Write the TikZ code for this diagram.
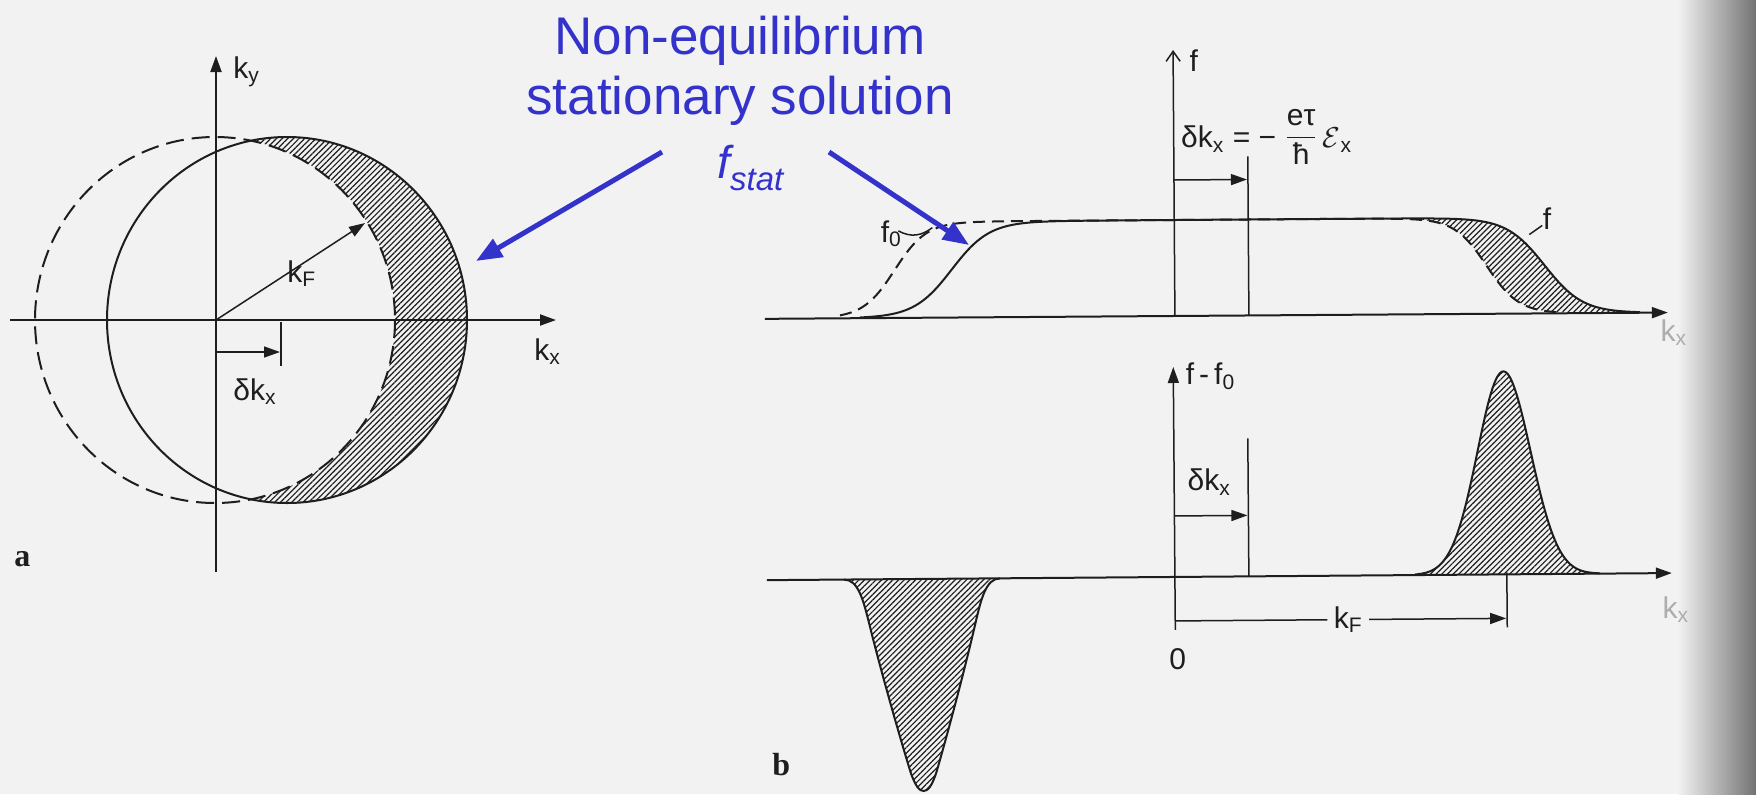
\documentclass[tikz,border=0pt]{standalone}
\usepackage{fontspec}
\setmainfont{Liberation Sans}
\newfontfamily\serifface{Liberation Serif}
\usetikzlibrary{arrows.meta,patterns.meta}
\definecolor{bg}{RGB}{242,242,242}
\definecolor{ink}{RGB}{30,30,30}
\definecolor{blu}{RGB}{51,51,204}
\begin{document}
\begin{tikzpicture}[x=0.5pt,y=-0.5pt,
  declare function={
    sig(\t)=1/(1+exp(-max(-9,min(9,\t))));
    fs(\t)=316-96*sig((\t-952)/19)*sig((1545-\t)/19);
    fz(\t)=316-96*sig((\t-895)/16)*sig((1487-\t)/16);
    pk(\t)=577-203*exp(-1*pow((\t-1505)/37.5,2));
  },
  curve/.style={draw=ink,line width=1pt},
  thinline/.style={draw=ink,line width=0.75pt},
  tip/.style={-{Triangle[length=8pt,width=5.5pt]}},
  hatch/.style={pattern={Lines[angle=45,distance=2pt,line width=0.6pt]},pattern color=ink},
  lab/.style={font=\fontsize{15}{18}\selectfont,text=ink,inner sep=0pt},
  panel/.style={font=\serifface\bfseries\fontsize{16}{18}\selectfont,text=ink,inner sep=0pt},
  bluetext/.style={font=\fontsize{26.5}{30}\selectfont,text=blu,inner sep=0pt},
  bluearrow/.style={draw=blu,line width=2.5pt,-{Triangle[length=13pt,width=10pt]}},
  faint/.style={font=\fontsize{15}{18}\selectfont,text=black!32,inner sep=0pt}
]
\useasboundingbox (0,0) rectangle (1756,794);
\fill[bg] (0,0) rectangle (1756,794);
\shade[left color=bg,right color=black!55] (1678,0) rectangle (1756,794);

% ---------------- panel a ----------------
\coordinate (O) at (216,320);
\begin{scope}
  \clip (287,320) ellipse [x radius=180,y radius=183];
  \fill[hatch,even odd rule] (0,100) rectangle (700,560) (215,320) ellipse [x radius=180,y radius=183];
\end{scope}
\draw[curve,dash pattern=on 9pt off 4pt] (215,320) ellipse [x radius=180,y radius=183];
\draw[curve] (287,320) ellipse [x radius=180,y radius=183];
\coordinate (kyb) at (216,572);
\coordinate (kyt) at (216,56);
\coordinate (kxl) at (10,320);
\coordinate (kxr) at (556,320);
\draw[curve,tip] (kyb) -- (kyt);
\draw[curve,tip] (kxl) -- (kxr);
\coordinate (kFe) at (365,223);
\draw[thinline,tip] (O) -- (kFe);
\coordinate (dka0) at (216,352);
\coordinate (dka1) at (280,352);
\draw[thinline,tip] (dka0) -- (dka1);
\coordinate (tka0) at (281,322);
\coordinate (tka1) at (281,366);
\draw[thinline] (tka0) -- (tka1);
\node[lab,anchor=base west] (ky) at (233,78) {k\textsubscript{y}};
\node[lab,anchor=base west] (kxa) at (534,360) {k\textsubscript{x}};
\node[lab,anchor=base west] (kFa) at (287,282) {k\textsubscript{F}};
\node[lab,anchor=base west] (dka) at (233,400) {δk\textsubscript{x}};
\node[panel,anchor=base west] (pa) at (14,566) {a};

% ---------------- top right graph ----------------
\begin{scope}[rotate around={0.4:(1175,316)}]
\fill[hatch] plot[domain=1420:1625,samples=90] (\x,{fs(\x)}) -- plot[domain=1625:1420,samples=90] (\x,{fz(\x)}) -- cycle;
\coordinate (b1l) at (765,316);
\coordinate (b1r) at (1668,316);
\draw[curve,tip] (b1l) -- (b1r);
\draw[curve,dash pattern=on 6pt off 3.5pt] plot[domain=840:1560,samples=220] (\x,{fz(\x)});
\draw[curve] plot[domain=860:1640,samples=240] (\x,{fs(\x)});
\coordinate (fa0) at (1175,316);
\coordinate (fa1) at (1175,50);
\draw[thinline,-{Straight Barb[length=5pt,width=7pt]}] (fa0) -- (fa1);
\node[lab,anchor=base west] (flab) at (1191,72) {f};
\coordinate (dk1t) at (1249,157);
\coordinate (dk1b) at (1249,316);
\draw[thinline] (dk1t) -- (dk1b);
\coordinate (dk1a) at (1175,180);
\coordinate (dk1e) at (1248,180);
\draw[thinline,tip] (dk1a) -- (dk1e);
\node[lab,anchor=base west] (formula) at (1182,148)
  {δk\textsubscript{x} = − \raisebox{1.5pt}{$\displaystyle\frac{\mbox{eτ}}{\mbox{ħ}}$}\,$\mathcal{E}$\textsubscript{x}};
\node[lab,anchor=base west] (f0lab) at (881,240) {f\textsubscript{0}};
\coordinate (f0l0) at (899,229);
\coordinate (f0l1) at (933,226);
\draw[thinline] (f0l0) .. controls (912,236) and (922,234) .. (f0l1);
\node[lab,anchor=base west] (flab2) at (1543,232) {f};
\coordinate (fl0) at (1530,237);
\coordinate (fl1) at (1543,228);
\draw[thinline] (fl0) -- (fl1);
\node[faint,anchor=base west] (kxt) at (1660,345) {k\textsubscript{x}};
\end{scope}

% ---------------- bottom right graph ----------------
\begin{scope}[rotate around={0.45:(1175,577)}]
\def\dippath{(844,577) .. controls (858,577) and (863,597) .. (869,622)
  .. controls (881,672) and (898,733) .. (909,770)
  .. controls (914,785) and (918,789) .. (922,789)
  .. controls (926,789) and (930,785) .. (935,770)
  .. controls (946,733) and (963,672) .. (975,622)
  .. controls (981,597) and (986,577) .. (1000,577)}
\fill[hatch] \dippath -- cycle;
\draw[curve] \dippath;
\fill[hatch] (1415,577) -- plot[domain=1415:1600,samples=120] (\x,{pk(\x)}) -- (1600,577) -- cycle;
\draw[curve] plot[domain=1415:1600,samples=120] (\x,{pk(\x)});
\coordinate (b2l) at (767,577);
\coordinate (b2r) at (1672,577);
\draw[curve,tip] (b2l) -- (b2r);
\coordinate (ga0) at (1175,630);
\coordinate (ga1) at (1175,367);
\draw[thinline,tip] (ga0) -- (ga1);
\node[lab,anchor=base west] (gflab) at (1187,385) {f\,-\,f\textsubscript{0}};
\coordinate (dk2t) at (1249,439);
\coordinate (dk2b) at (1249,577);
\draw[thinline] (dk2t) -- (dk2b);
\coordinate (dk2a) at (1175,516);
\coordinate (dk2e) at (1248,516);
\draw[thinline,tip] (dk2a) -- (dk2e);
\node[lab,anchor=base west] (dkb) at (1188,491) {δk\textsubscript{x}};
\coordinate (kFt0) at (1507,575);
\coordinate (kFt1) at (1507,630);
\draw[thinline] (kFt0) -- (kFt1);
\node[lab,inner sep=3pt] (kFb) at (1348,621) {k\textsubscript{F}};
\coordinate (kFs) at (1175,621);
\coordinate (kFe2) at (1506,621);
\draw[thinline] (kFs) -- (kFb);
\draw[thinline,tip] (kFb) -- (kFe2);
\node[lab] (zero) at (1177,659) {0};
\node[faint,anchor=base west] (kxb) at (1662,622) {k\textsubscript{x}};
\end{scope}
\node[panel,anchor=base west] (pb) at (772,775) {b};

% ---------------- blue annotation ----------------
\node[bluetext,anchor=base] (t1) at (740,54) {Non-equilibrium};
\node[bluetext,anchor=base] (t2) at (740,114) {stationary solution};
\node[text=blu,inner sep=0pt,anchor=base west] (t3) at (717,178)
  {\fontsize{23}{26}\selectfont\itshape f\raisebox{-6pt}{\fontsize{16.5}{18}\selectfont stat}};
\coordinate (a1s) at (662,152);
\coordinate (a1e) at (476,261);
\coordinate (a2s) at (829,152);
\coordinate (a2e) at (969,245);
\draw[bluearrow] (a1s) -- (a1e);
\draw[bluearrow] (a2s) -- (a2e);
\end{tikzpicture}
\end{document}
